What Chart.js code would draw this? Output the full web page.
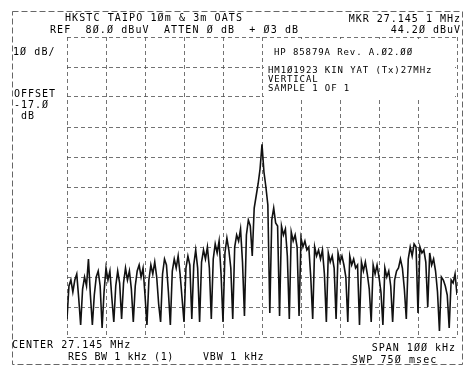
<!DOCTYPE html>
<html>
<head>
<meta charset="utf-8">
<script src="https://cdn.jsdelivr.net/npm/chart.js@4/dist/chart.umd.min.js"></script>
<style>
html,body{margin:0;padding:0;background:#fff;}
canvas{display:block;}
</style>
</head>
<body>
<canvas id="c" width="470" height="376"></canvas>
<script>
// ---- data ----
const centerMHz = 27.145;
const spanKHz = 100;
const sweepStepKHz = 0.5;
// trace level in dBuV, one value per 0.5 kHz step from -50 kHz to +50 kHz
const levelsDbuV = [
 -14,-3,-1,-5,-1,1,-7,-16,-4,0,
 -3,6,-6,-16,-6,0,2,-3,-17,-5,
 3,-1,2,-7,-15,-3,2,-2,-14,-2,
 3,-1,2,-4,-15,-3,2,4,0,3,
 -6,-16,-1,4,1,5,0,-9,-15,1,
 6,4,-5,-16,2,6,3,7,1,-7,
 -15,3,7,4,-14,4,9,3,-15,5,
 9,6,10,3,-14,6,11,8,12,1,
 -15,8,13,9,3,-14,10,14,12,16,
 5,-13,14,19,17,7,23,27,31,36,
 44.2,35,30,24,-12,19,23,18,17,-13,
 17,14,16,7,-14,15,12,14,10,-13,
 13,10,12,9,10,0,-14,10,7,9,
 6,9,1,-15,8,5,7,3,-14,8,
 5,7,4,0,-15,7,4,6,3,4,
 -16,5,2,5,1,-4,-15,4,1,4,
 0,-5,-16,3,0,2,-3,-15,-1,2,
 3,6,3,-4,-14,6,10,7,11,10,
 -12,10,8,9,5,-10,8,4,6,2,
 -5,-18,0,-1,-3,-6,-17,-1,-2,1,
 -6
];
const refLevelDbuV = 80;
const dbPerDiv = 10;
const markerLevel = 44.20;

// frequency bins of the sweep (kHz offset from centre)
const freqOffsetsKHz = levelsDbuV.map((_, i) => -spanKHz / 2 + i * sweepStepKHz);

const headerLeft1 = "HKSTC TAIPO 1Øm & 3m OATS";
const headerLeft2 = "REF  8Ø.Ø dBuV  ATTEN Ø dB  + Ø3 dB";
const headerRight1 = "MKR 27.145 1 MHz";
const headerRight2 = "44.2Ø dBuV";
const scaleLabel = "1Ø dB/";
const offsetLabel = ["OFFSET", "-17.Ø", " dB"];
const boxLines = ["HM1Ø1923 KIN YAT (Tx)27MHz", "VERTICAL", "SAMPLE 1 OF 1"];
const boxTitle = "HP 85879A Rev. A.Ø2.ØØ";

const MONO = '"DejaVu Sans Mono", "Liberation Mono", monospace';

const analyzerPlugin = {
  id: 'analyzer',
  beforeDraw(chart) {
    const c = chart.ctx;
    c.save();
    c.fillStyle = '#fff';
    c.fillRect(0, 0, chart.width, chart.height);
    c.restore();
  },
  beforeDatasetsDraw(chart) {
    const c = chart.ctx;
    const a = chart.chartArea;
    // annotation box area (hides graticule)
    c.save();
    c.fillStyle = '#fff';
    c.fillRect(a.left + (a.right - a.left) / 2 + 2, a.top + 2, (a.right - a.left) / 2 - 4, 58);
    c.restore();
  },
  afterDraw(chart) {
    const c = chart.ctx;
    c.save();
    // outer frame
    c.strokeStyle = '#666';
    c.lineWidth = 1;
    c.setLineDash([6, 3]);
    c.strokeRect(12.5, 11.5, 450, 353);
    c.setLineDash([]);

    c.fillStyle = '#000';
    c.textBaseline = 'alphabetic';
    const txt = (s, x, y, align, size, sp) => {
      c.font = size + 'px ' + MONO;
      c.letterSpacing = sp + 'px';
      c.textAlign = align || 'left';
      c.fillText(s, x, y);
    };
    txt(headerLeft1, 65, 21, 'left', 10, 1.1);
    txt(headerRight1, 461, 22, 'right', 10, 1.0);
    txt(headerLeft2, 50, 33, 'left', 10, 1.1);
    txt(headerRight2, 461, 33, 'right', 10, 1.0);
    txt(scaleLabel, 13, 55, 'left', 10, 1.1);
    txt(offsetLabel[0], 14, 97, 'left', 10, 1.0);
    txt(offsetLabel[1], 14, 108, 'left', 10, 1.0);
    txt(offsetLabel[2], 14, 119, 'left', 10, 1.0);

    txt(boxTitle, 274, 55, 'left', 9, 0.9);
    txt(boxLines[0], 268, 73, 'left', 9, 0.9);
    txt(boxLines[1], 268, 82, 'left', 9, 0.9);
    txt(boxLines[2], 268, 91, 'left', 9, 0.9);

    txt("CENTER 27.145 MHz", 12, 348, 'left', 10, 1.0);
    txt("SPAN 1ØØ kHz", 456, 351, 'right', 10, 1.0);
    txt("RES BW 1 kHz (1)", 68, 360, 'left', 10, 0.6);
    txt("VBW 1 kHz", 203, 360, 'left', 10, 0.8);
    txt("SWP 75Ø msec", 352, 363, 'left', 10, 1.1);
    c.restore();
  }
};

const gridStyle = {
  color: 'rgba(80,80,80,0.8)',
  lineWidth: 1,
  drawTicks: false,
};

new Chart(document.getElementById('c'), {
  type: 'line',
  data: {
    datasets: [{
      data: freqOffsetsKHz.map((f, i) => ({ x: f, y: levelsDbuV[i] })),
      borderColor: '#111',
      borderWidth: 1.6,
      pointRadius: 0,
      tension: 0,
      fill: false
    }]
  },
  options: {
    responsive: false,
    animation: false,
    events: [],
    layout: { padding: { left: 67, top: 37, right: 13, bottom: 39 } },
    scales: {
      x: {
        type: 'linear',
        min: -spanKHz / 2,
        max: spanKHz / 2,
        ticks: { display: false, stepSize: spanKHz / 10 },
        grid: gridStyle,
        border: { display: false, dash: [4, 3] },
        afterFit(s) { s.height = 0; }
      },
      y: {
        min: refLevelDbuV - 10 * dbPerDiv,
        max: refLevelDbuV,
        ticks: { display: false, stepSize: dbPerDiv },
        grid: gridStyle,
        border: { display: false, dash: [4, 3] },
        afterFit(s) { s.width = 0; }
      }
    },
    plugins: { legend: { display: false }, tooltip: { enabled: false } }
  },
  plugins: [analyzerPlugin]
});
</script>
</body>
</html>
